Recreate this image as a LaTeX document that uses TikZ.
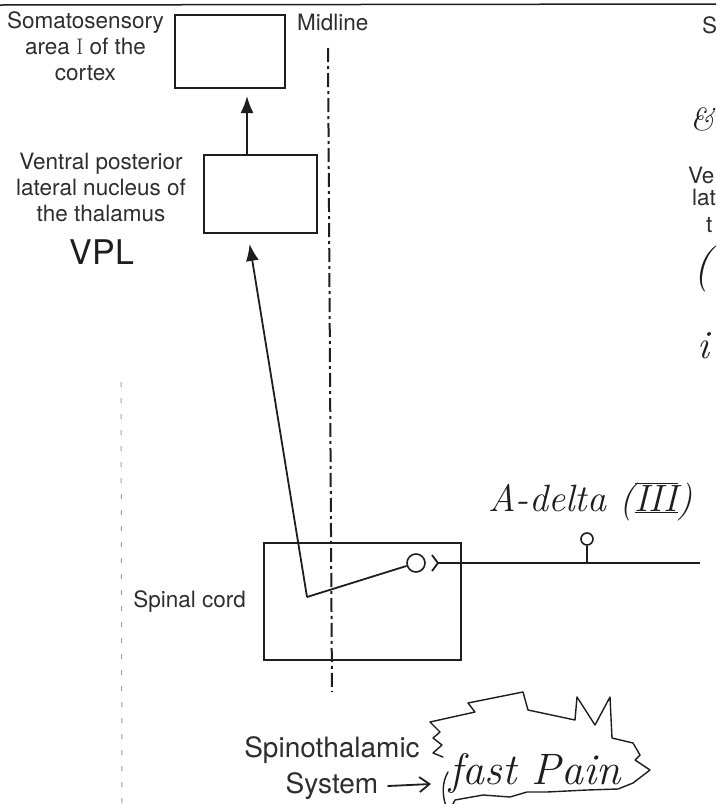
\documentclass[tikz,border=0pt]{standalone}
\usepackage{fontspec}
\setsansfont{TeX Gyre Heros}
\usetikzlibrary{arrows.meta,calc,positioning}
\definecolor{scanink}{HTML}{1E1E1E}
\definecolor{printgray}{HTML}{2E2E2E}
\definecolor{bleed}{HTML}{A0A0A0}
\newcommand{\printfont}{\sffamily\fontsize{22.5}{26}\selectfont}
\newcommand{\hand}[1]{\rmfamily\itshape\fontsize{#1}{#1}\selectfont}
\tikzset{
    region/.style={draw=scanink,line width=2pt,inner sep=0pt},
    caption/.style={text=printgray,font=\printfont,align=center,inner sep=0pt},
    tag/.style={text=printgray,font=\printfont,inner sep=0pt,anchor=base west},
    scrawl/.style={text=scanink,inner sep=0pt},
    fiber/.style={draw=scanink,line width=1.8pt},
    tract/.style={fiber,-{Latex[length=17pt,width=13pt]}},
    soma/.style={circle,draw=scanink,line width=1.6pt,inner sep=0pt},
    midline/.style={draw=scanink,line width=2pt,dash pattern=on 14pt off 4pt on 3pt off 4pt},
    squiggle/.style={draw=scanink,line width=1.4pt,line join=round,line cap=round},
}

\begin{document}
\begin{tikzpicture}[x=1pt,y=-1pt]
    \useasboundingbox (0,0) rectangle (716,804);
    \clip (0,0) rectangle (716,804);
    \fill[white] (0,0) rectangle (716,804);

    % edge of the scanned page
    \draw[scanink,line width=1.5pt] (0,5) -- (716,4);
    \draw[bleed,line width=1pt,dash pattern=on 5pt off 11pt] (121,382) -- (122,804);

    % the three levels
    \node[region,minimum width=110pt,minimum height=73pt] (cortex) at (230,51.5) {};
    \node[region,minimum width=113pt,minimum height=78pt] (vpl) at (260.5,194) {};
    \node[region,minimum width=197pt,minimum height=117pt] (cord) at (362.5,601.5) {};

    \node[caption,left=10pt of cortex,yshift=5pt] (cortexlbl) {Somatosensory\\area {\rmfamily I} of the\\cortex};
    \node[caption,left=17pt of vpl,yshift=7pt] (vpllbl) {Ventral posterior\\lateral nucleus of\\the thalamus};
    \node[scrawl,font=\sffamily\fontsize{34}{34}\selectfont] (vpltag) at (102,252) {VPL};
    \node[caption,left=17pt of cord] (cordlbl) {Spinal cord};

    % midline
    \coordinate (midtop) at (328,48);
    \coordinate (midbot) at (332,692);
    \draw[midline] (midtop) -- (midbot);
    \node[tag] (midlbl) at (297,30) {Midline};

    % pathway
    \coordinate (cordbend) at (307,597);
    \node[soma,minimum size=18pt] (cell) at (416,563) {};
    \coordinate (fork) at (438,563);
    \coordinate (fiberend) at (700,563);
    \node[soma,minimum size=12pt] (drg) at (587,539) {};

    \draw[tract,shorten >=10pt] (cordbend) -- ($(vpl.south)+(-12.5,0)$);
    \draw[tract,shorten >=7pt] ([xshift=-13.5pt]vpl.north) -- ([xshift=-13.5pt]vpl.north |- cortex.south);
    \draw[fiber] (cordbend) -- (cell);
    \draw[fiber,line join=round] ($(fork)+(-6,-8)$) -- (fork) -- ($(fork)+(-6,8)$);
    \draw[fiber] (fork) -- (fiberend);
    \draw[fiber,line width=1.4pt] (drg) -- (drg |- fiberend);
    \node[scrawl,font=\hand{38},anchor=base west] (adelta) at (488,511) {A-delta ($\overline{\underline{\hbox{III}}}$)};

    % handwritten note
    \node[caption,font=\sffamily\fontsize{28}{36}\selectfont] (spino) at (332,768) {Spinothalamic\\System};
    \coordinate (sysarrow) at (388,786);
    \coordinate (cloudin) at (431,784);
    \draw[squiggle,line width=1.8pt,-{Straight Barb[length=10pt,width=15pt]}] (sysarrow) -- (cloudin);
    \draw[squiggle] (443,757) -- (433,753) -- (442,745) -- (433,738) -- (440,732) -- (430,722)
        -- (475,712) -- (468,703) -- (523,692) -- (528,710) -- (575,720) -- (577,697)
        -- (595,725) -- (610,697) -- (612,738) -- (633,743) -- (640,755) -- (635,760)
        -- (650,770) -- (633,783) -- (618,789) -- (587,790) -- (547,792) -- (527,792)
        -- (510,797) -- (483,795) -- (455,800) -- (450,810);
    \draw[squiggle] (448,772) .. controls (442,782) and (442,795) .. (446,806);
    \node[scrawl,font=\hand{44},anchor=base] (fastpain) at (535,784) {fast Pain};

    % next figure, as far as the page edge shows it
    \node[tag] (nextcortex) at (702,33) {S};
    \node[scrawl,font=\hand{32},anchor=base west] (nextamp) at (690,130) {\&};
    \node[tag] (nextvpl) at (688,183) {Ve};
    \node[tag] (nextlat) at (692,205) {lat};
    \node[tag] (nextthe) at (706,232) {t};
    \node[scrawl,font=\hand{46},anchor=base west] (nextparen) at (693,280) {(};
    \node[scrawl,font=\hand{40},anchor=base west] (nexti) at (697,358) {i};
\end{tikzpicture}
\end{document}
